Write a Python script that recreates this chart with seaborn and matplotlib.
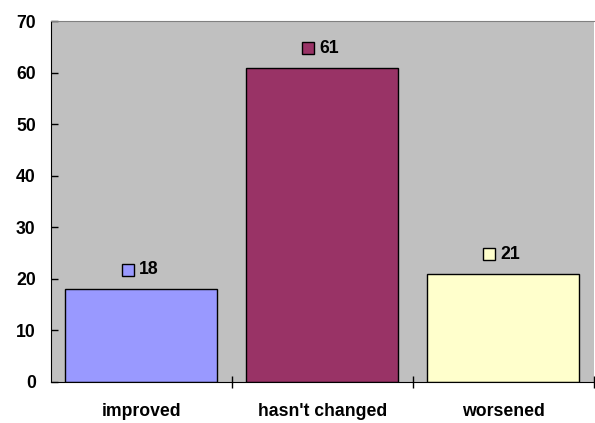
import matplotlib
matplotlib.use("Agg")
import matplotlib.pyplot as plt
import matplotlib.transforms as mtransforms
import seaborn as sns
import pandas as pd

# Data
categories = ["improved", "hasn't changed", "worsened"]
values = [18, 61, 21]
colors = ["#9999FF", "#993366", "#FFFFCC"]

df = pd.DataFrame({"category": categories, "value": values})

sns.set_style("white")
plt.rcParams["font.family"] = ["Liberation Sans", "DejaVu Sans"]
plt.rcParams["text.color"] = "black"
plt.rcParams["xtick.color"] = "black"
plt.rcParams["ytick.color"] = "black"

fig = plt.figure(figsize=(5.95, 4.23), dpi=100)
ax = fig.add_axes([0.0857, 0.097, 0.912, 0.853])
ax.set_facecolor("#C0C0C0")

sns.barplot(data=df, x="category", y="value", hue="category", palette=colors,
            edgecolor="black", linewidth=1, width=0.84, legend=False, ax=ax, saturation=1)

ax.set_ylim(0, 70)
ax.set_xlim(-0.5, 2.5)
ax.set_yticks(range(0, 71, 10))
ax.set_xlabel("")
ax.set_ylabel("")

for lbl in ax.get_yticklabels() + ax.get_xticklabels():
    lbl.set_fontweight("bold")
    lbl.set_fontsize(12.7)
    lbl.set_color("black")

ax.tick_params(axis="y", direction="in", length=5, width=1, color="black", pad=11, left=True)
ax.tick_params(axis="x", which="major", length=0, pad=15)
ax.set_xticks([0.5, 1.5, 2.5], minor=True)
ax.tick_params(axis="x", which="minor", direction="inout", length=9, width=1, color="black", bottom=True)

ax.spines["left"].set_color("black")
ax.spines["bottom"].set_color("black")
ax.spines["top"].set_color("#808080")
ax.spines["right"].set_visible(False)

# Value labels with small colour keys
for i, (v, c) in enumerate(zip(values, colors)):
    ax.annotate(str(v), xy=(i, v), xytext=(-2, 14), textcoords="offset points",
                ha="left", va="center", fontsize=12.7, fontweight="bold", color="black")
    tr = mtransforms.offset_copy(ax.transData, fig=fig, x=-10, y=14, units="points")
    ax.plot([i], [v], marker="s", markersize=8, markerfacecolor=c,
            markeredgecolor="black", markeredgewidth=1, transform=tr, clip_on=False)

fig.savefig("out.png", dpi=100)
